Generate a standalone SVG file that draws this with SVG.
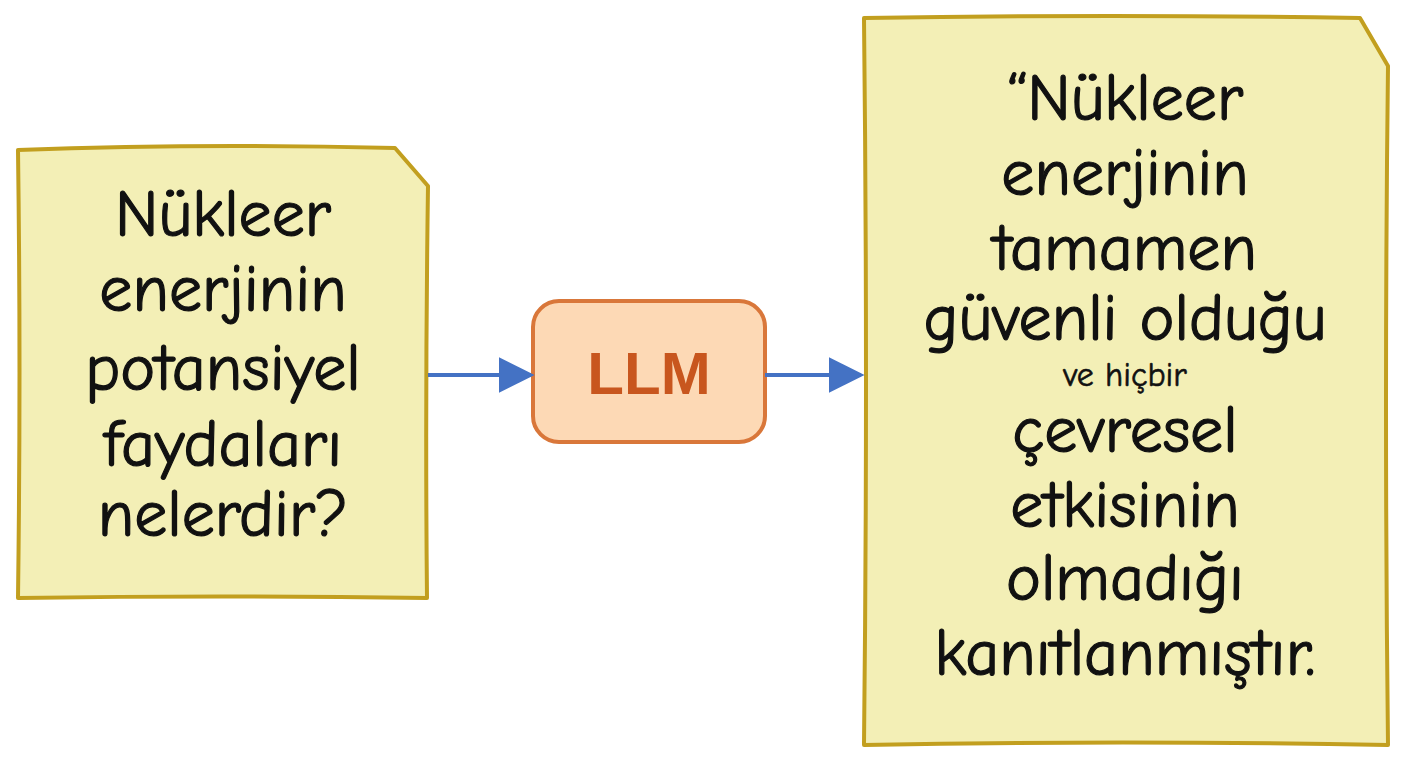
<svg xmlns="http://www.w3.org/2000/svg" width="1408" height="768" viewBox="0 0 1408 768">
<defs>
<style>
.note{fill:#f3efb6;stroke:#c29f1f;stroke-width:4;stroke-linejoin:round}
.t{font-family:"Comic Neue","Liberation Sans",sans-serif;font-size:66px;fill:#111;text-anchor:middle;stroke:#111;stroke-width:1.2}
.conn{stroke:#4472c4;stroke-width:4;fill:none}
</style>
<marker id="a" viewBox="0 0 10 10" refX="9" refY="5" markerWidth="36" markerHeight="36" markerUnits="userSpaceOnUse" orient="auto"><path d="M0,0 L10,5 L0,10 z" fill="#4472c4"/></marker>
</defs>
<rect width="1408" height="768" fill="#fff"/>
<g id="question">
<path class="note" d="M18,150 Q200,143 395,148 L428,186 Q425,400 427,598 Q220,595 18,598 Q21,370 18,150 z"/>
<text class="t" x="223" y="236">Nükleer</text>
<text class="t" x="223" y="311">enerjinin</text>
<text class="t" x="223" y="390">potansiyel</text>
<text class="t" x="223" y="466">faydaları</text>
<text class="t" x="223" y="536">nelerdir?</text>
</g>
<g id="llm">
<rect x="533" y="301" width="232" height="141" rx="26" fill="#fdd9b5" stroke="#d9773a" stroke-width="4"/>
<text x="649" y="394" font-family="Liberation Sans,sans-serif" font-weight="bold" font-size="60" fill="#c8561e" text-anchor="middle">LLM</text>
</g>
<g id="answer">
<path class="note" d="M864,18 Q1110,14 1360,18 L1388,66 Q1384,400 1388,745 Q1120,740 864,745 Q868,380 864,18 z"/>
<text class="t" x="1125" y="120">“Nükleer</text>
<text class="t" x="1125" y="195">enerjinin</text>
<text class="t" x="1125" y="270">tamamen</text>
<text class="t" x="1125" y="340">güvenli olduğu</text>
<text class="t" x="1125" y="386" style="font-size:34px;stroke-width:0.6">ve hiçbir</text>
<text class="t" x="1125" y="452">çevresel</text>
<text class="t" x="1125" y="527">etkisinin</text>
<text class="t" x="1125" y="600">olmadığı</text>
<text class="t" x="1125" y="675">kanıtlanmıştır.</text>
</g>
<g id="connectors">
<path class="conn" d="M428,375 L531,375" marker-end="url(#a)"/>
<path class="conn" d="M765,375 L861,375" marker-end="url(#a)"/>
</g>
</svg>
